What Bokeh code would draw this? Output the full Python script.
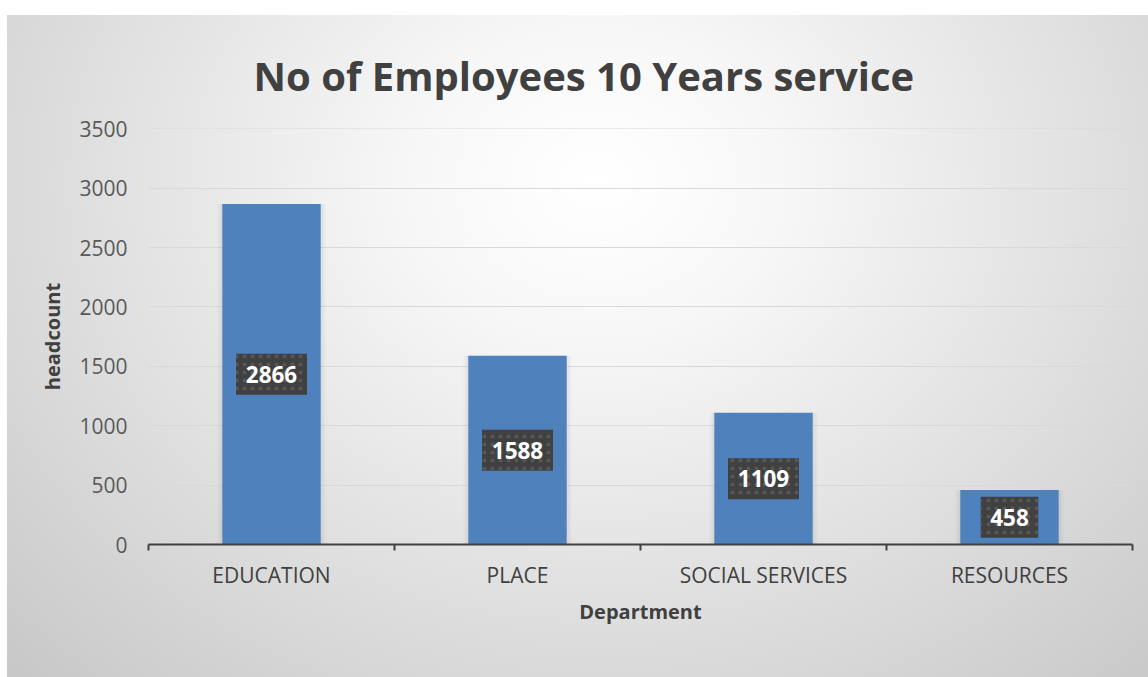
from bokeh.plotting import figure
from bokeh.models import FixedTicker, ColumnDataSource, Title, Range1d
from bokeh.core.properties import value
from bokeh.embed import file_html
from bokeh.resources import INLINE

# ---- data ----
departments = ["EDUCATION", "PLACE", "SOCIAL SERVICES", "RESOURCES"]
headcount = [2866, 1588, 1109, 458]
y_ticks = [0, 500, 1000, 1500, 2000, 2500, 3000, 3500]
title_text = "No of Employees 10 Years service"
x_title = "Department"
y_title = "headcount"

n = len(departments)
xs = [i + 0.5 for i in range(n)]
src = ColumnDataSource(dict(
    x=xs,
    top=headcount,
    mid=[v / 2 for v in headcount],
    label=[str(v) for v in headcount],
    box_w=[13.5 * len(str(v)) + 17 for v in headcount],
))

FONT = "Open Sans"

p = figure(width=1148, height=677,
           x_range=Range1d(0, n), y_range=Range1d(y_ticks[0], y_ticks[-1] + 2),
           output_backend="svg", toolbar_location=None,
           min_border_left=148, min_border_right=16,
           min_border_top=128, min_border_bottom=133)

p.background_fill_color = None
p.border_fill_color = None
p.outline_line_color = None
p.styles = {
    "background": "linear-gradient(#ffffff,#ffffff) top / 100% 15px no-repeat, "
                  "linear-gradient(#ffffff,#ffffff) left / 7px 100% no-repeat, "
                  "radial-gradient(ellipse farthest-corner at 52% 27%, #ffffff 0%, #f7f7f7 22%, #c7c7c7 100%)"
}

# bar glow
p.vbar(x="x", top="top", bottom=0, width=0.44, source=src,
       fill_color="#000000", fill_alpha=0.025, line_color=None)
p.vbar(x="x", top="top", bottom=0, width=0.42, source=src,
       fill_color="#000000", fill_alpha=0.035, line_color=None)
# bars
p.vbar(x="x", top="top", bottom=0, width=0.4, source=src,
       fill_color="#4F81BD", line_color=None)

# label boxes
p.rect(x="x", y="mid", width="box_w", height=41, width_units="screen",
       height_units="screen", source=src, fill_color="#404040",
       line_color=None, hatch_pattern="dot", hatch_color="#575757",
       hatch_scale=8, hatch_weight=1)
p.text(x="x", y="mid", text="label", source=src, text_align="center",
       text_baseline="middle", text_color="#ffffff",
       text_font=value(FONT), text_font_style="bold", text_font_size="22.5px")

# x axis
xa = p.xaxis[0]
xa.ticker = FixedTicker(ticks=xs, minor_ticks=list(range(n + 1)))
xa.major_label_overrides = {xv: d for xv, d in zip(xs, departments)}
xa.axis_line_color = "#404040"
xa.axis_line_width = 2
xa.major_tick_line_color = None
xa.major_tick_out = 0
xa.major_tick_in = 0
xa.minor_tick_line_color = "#404040"
xa.minor_tick_line_width = 2
xa.minor_tick_out = 6
xa.minor_tick_in = 0
xa.major_label_text_font = FONT
xa.major_label_text_font_size = "21px"
xa.major_label_text_color = "#404040"
xa.major_label_standoff = 10
xa.axis_label = x_title
xa.axis_label_text_font = FONT
xa.axis_label_text_font_style = "bold"
xa.axis_label_text_font_size = "20px"
xa.axis_label_text_color = "#404040"
xa.axis_label_standoff = 6

# y axis
ya = p.yaxis[0]
ya.ticker = FixedTicker(ticks=y_ticks)
ya.axis_line_color = None
ya.major_tick_line_color = None
ya.major_tick_out = 0
ya.major_tick_in = 0
ya.minor_tick_line_color = None
ya.major_label_text_font = FONT
ya.major_label_text_font_size = "21px"
ya.major_label_text_color = "#595959"
ya.major_label_standoff = 21
ya.axis_label = y_title
ya.axis_label_text_font = FONT
ya.axis_label_text_font_style = "bold"
ya.axis_label_text_font_size = "20px"
ya.axis_label_text_color = "#404040"
ya.axis_label_standoff = 10

p.xgrid.grid_line_color = None
p.ygrid.grid_line_color = "#d9d9d9"
p.ygrid.grid_line_width = 1

p.title = Title(text=title_text, align="left", offset=105, standoff=52,
                text_font=FONT, text_font_style="bold", text_font_size="40px",
                text_color="#404040")

open("out.html", "w").write(file_html(p, INLINE))
